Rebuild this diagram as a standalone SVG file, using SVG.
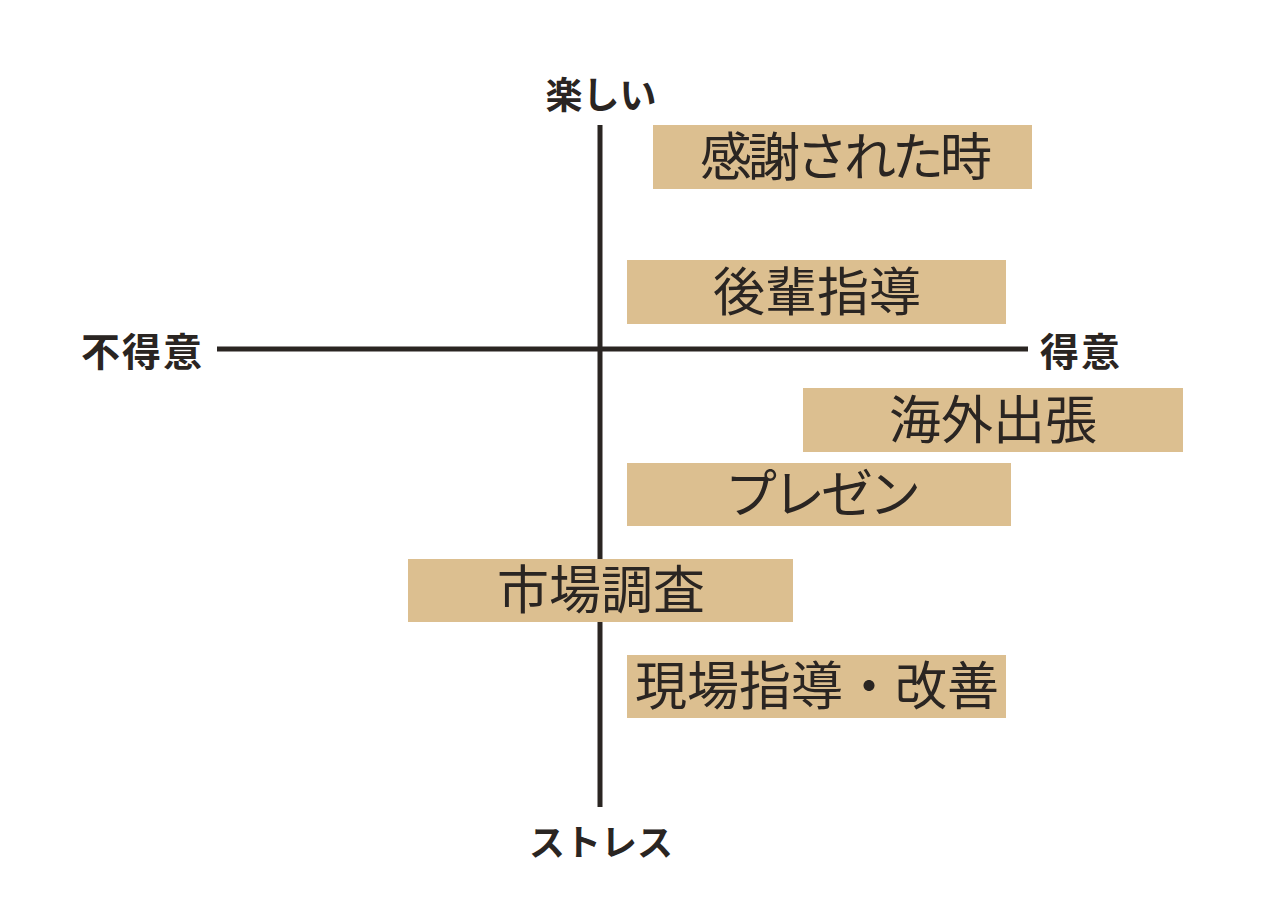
<svg xmlns="http://www.w3.org/2000/svg" width="1280" height="918" viewBox="0 0 1280 918">
<style>
.axis{stroke:#2a2522;stroke-width:5;fill:none}
.box{fill:#dcbf90}
.bt{font-family:"Noto Sans CJK JP","Noto Sans",sans-serif;font-size:52px;fill:#2a2522;text-anchor:middle}
.lb{font-family:"Noto Sans CJK JP","Noto Sans",sans-serif;font-size:37px;font-weight:bold;fill:#2a2522}
.lh{font-size:39px;letter-spacing:2px}
</style>
<rect width="1280" height="918" fill="#ffffff"/>
<g id="connectors">
<line class="axis" x1="600" y1="125" x2="600" y2="807"/>
<line class="axis" x1="217" y1="349" x2="1028" y2="349"/>
</g>
<g id="label-top"><text class="lb" x="601" y="109" text-anchor="middle">楽しい</text></g>
<g id="label-bottom"><text class="lb" x="601" y="856" text-anchor="middle" style="font-size:36px">ストレス</text></g>
<g id="label-left"><text class="lb lh" x="204" y="366" text-anchor="end">不得意</text></g>
<g id="label-right"><text class="lb lh" x="1040" y="366">得意</text></g>
<g id="node-kansha"><rect class="box" x="653" y="125" width="379" height="64"/><text class="bt" x="844" y="176" letter-spacing="-4">感謝された時</text></g>
<g id="node-kouhai"><rect class="box" x="627" y="260" width="379" height="64"/><text class="bt" x="817" y="311">後輩指導</text></g>
<g id="node-kaigai"><rect class="box" x="803" y="388" width="380" height="64"/><text class="bt" x="993" y="439">海外出張</text></g>
<g id="node-presen"><rect class="box" x="627" y="463" width="384" height="63"/><text class="bt" x="821" y="513" letter-spacing="-4">プレゼン</text></g>
<g id="node-shijou"><rect class="box" x="408" y="559" width="385" height="63"/><text class="bt" x="601" y="609">市場調査</text></g>
<g id="node-genba"><rect class="box" x="627" y="655" width="379" height="63"/><text class="bt" x="817" y="705">現場指導・改善</text></g>
</svg>
